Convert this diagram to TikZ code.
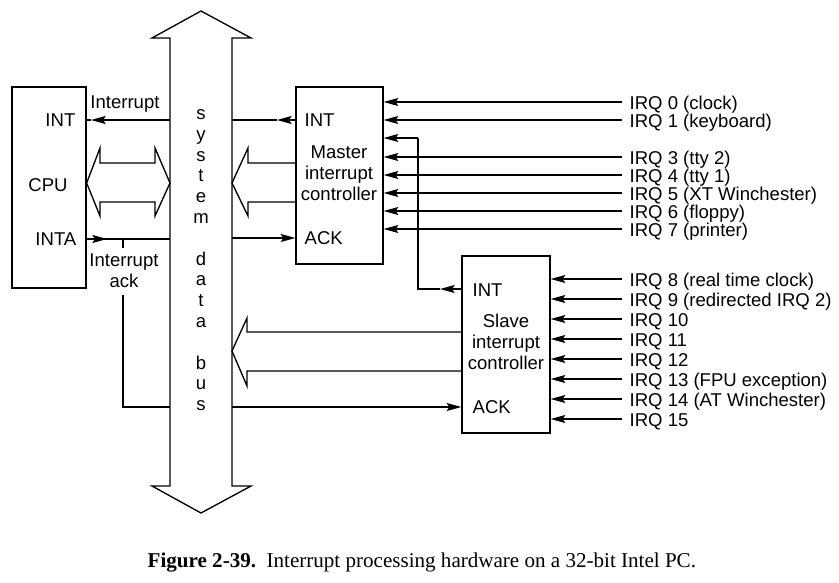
\documentclass[tikz,border=0pt]{standalone}
\usepackage{fontspec}
\setmainfont{Liberation Sans}
\newfontfamily\capfont{Liberation Serif}
\usetikzlibrary{arrows.meta,fit}
\begin{document}
\begin{tikzpicture}[x=0.75pt,y=-0.75pt,line width=1pt,
  txt/.style={font=\fontsize{13.9}{15.75}\selectfont, inner sep=0pt},
  box/.style={draw, inner sep=0pt},
  arr/.style={-{Stealth[length=11pt,width=6pt,inset=2pt]}},
  wide/.style={draw, line join=miter}]
\useasboundingbox (0,0) rectangle (839,582);

% system data bus
\draw[wide, fill=white] (170,38) -- (152,38) -- (201,11) -- (251,38) -- (232,38) -- (232,486)
  -- (251,486) -- (201,513) -- (152,486) -- (170,486) -- cycle;
\coordinate (busL) at (170,0);
\coordinate (busR) at (232,0);
\foreach \c/\k in {s/0,y/1,s/2,t/3,e/4,m/5,d/7,a/8,t/9,a/10,b/12,u/13,s/14}
  \node[txt, anchor=mid] (bus\k) at (201,{116+20.8*\k}) {\c};

% boxes
\node[box, fit={(12,87) (86,288)}] (cpu) {};
\node[box, fit={(296,87) (383,264)}] (master) {};
\node[box, fit={(462,256) (550,433)}] (slave) {};

% CPU texts
\node[txt, anchor=base east] (cint) at (76,126.5) {INT};
\node[txt, anchor=base] (cpulab) at (48,191.5) {CPU};
\node[txt, anchor=base east] (cinta) at (77,245.5) {INTA};
\node[txt, anchor=base] (intlab) at (125,108.5) {Interrupt};
\node[txt, align=center] (iack) at (124,270.5) {Interrupt\\ack};

% master texts
\node[txt, anchor=base west] (mint) at (304,126.5) {INT};
\node[txt, align=center] (mlab) at (339,173) {Master\\interrupt\\controller};
\node[txt, anchor=base west] (mack) at (304,244.5) {ACK};

% slave texts
\node[txt, anchor=base west] (sint) at (472,296.5) {INT};
\node[txt, align=center] (slab) at (506,342) {Slave\\interrupt\\controller};
\node[txt, anchor=base west] (sack) at (472,413.5) {ACK};

% wide data arrows
\draw[wide] (cpu.east|-0,183) -- (100,148) -- (100,163) -- (155,163) -- (155,148) -- (busL|-0,183)
  -- (155,216) -- (155,202) -- (100,202) -- (100,216) -- cycle;
\draw[wide] (master.west|-0,163) -- (248,163) -- (248,148) -- (busR|-0,183) -- (248,216) -- (248,202) -- (master.west|-0,202);
\draw[wide] (slave.west|-0,332) -- (247,332) -- (247,318) -- (busR|-0,351) -- (247,386) -- (247,371) -- (slave.west|-0,371);

% CPU INT
\draw[arr] (busL|-0,120) -- (91,120);
\draw (91,120) -- (cpu.east|-0,120);
% INTA
\draw (cpu.east|-0,239) -- (busL|-0,239);
\draw[arr] (cpu.east|-0,239) -- (107,239);
\draw (123,239) -- (123,248);
\draw (123,295) -- (123,407) -- (busL|-0,407);
\draw[arr] (busR|-0,407) -- (slave.west|-0,407);
% master INT / ACK
\draw[arr] (master.west|-0,120) -- (277,120);
\draw (277,120) -- (busR|-0,120);
\draw[arr] (busR|-0,238) -- (master.west|-0,238);
% cascade (IRQ 2)
\draw[arr] (slave.west|-0,289) -- (440,289);
\draw (440,289) -- (418,289) -- (418,138);
\draw[arr] (418,138) -- (master.east|-0,138);

% master IRQ lines
\foreach \y/\lab/\n in {102/IRQ 0 (clock)/0, 120/IRQ 1 (keyboard)/1, 157/IRQ 3 (tty 2)/3,
    175/IRQ 4 (tty 1)/4, 193/IRQ 5 (XT Winchester)/5, 211/IRQ 6 (floppy)/6, 229/IRQ 7 (printer)/7} {
  \coordinate (q\n) at (622,\y);
  \node[txt, anchor=base west] (irq\n) at (629,\y+7.5) {\lab};
  \draw[arr] (q\n) -- (q\n -| master.east);
}
% slave IRQ lines
\foreach \y/\lab/\n in {279/IRQ 8 (real time clock)/8, 299/IRQ 9 (redirected IRQ 2)/9, 319/IRQ 10/10,
    339/IRQ 11/11, 359/IRQ 12/12, 379/IRQ 13 (FPU exception)/13, 399/IRQ 14 (AT Winchester)/14, 419/IRQ 15/15} {
  \coordinate (q\n) at (622,\y);
  \node[txt, anchor=base west] (irq\n) at (629,\y+7.5) {\lab};
  \draw[arr] (q\n) -- (q\n -| slave.east);
}

% caption
\node[anchor=base west, inner sep=0pt, font=\capfont\fontsize{15.8}{18}\selectfont] (caption) at (147,567)
  {\textbf{Figure 2-39.}\ \ Interrupt processing hardware on a 32-bit Intel PC.};
\end{tikzpicture}
\end{document}
